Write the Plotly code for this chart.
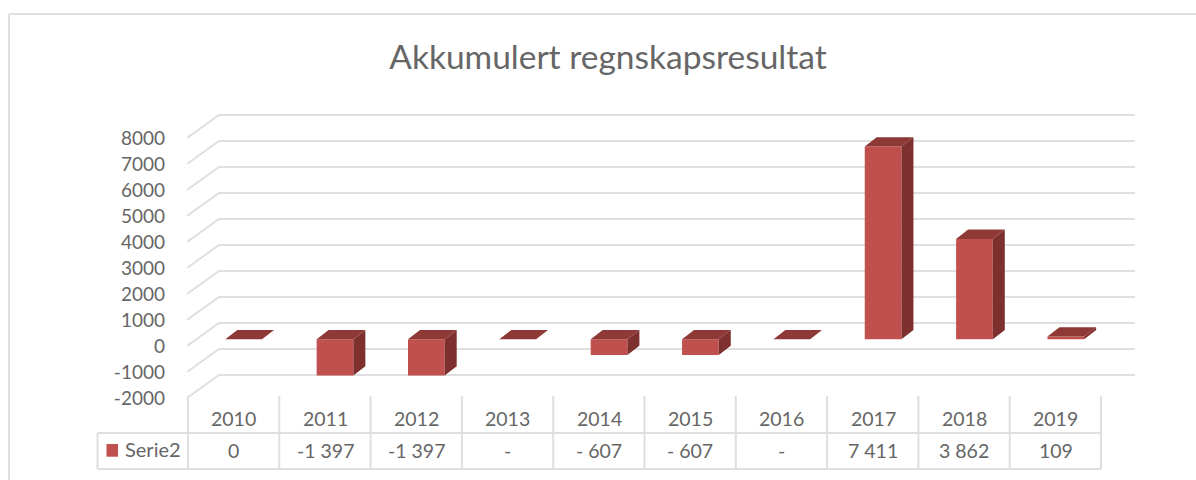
import plotly.graph_objects as go

# --- data ---
years = ["2010", "2011", "2012", "2013", "2014", "2015", "2016", "2017", "2018", "2019"]
values = [0, -1397, -1397, 0, -607, -607, 0, 7411, 3862, 109]
table_labels = ["0", "-1 397", "-1 397", "-", "- 607", "- 607", "-", "7 411", "3 862", "109"]
y_ticks = [8000, 7000, 6000, 5000, 4000, 3000, 2000, 1000, 0, -1000, -2000]
series_name = "Serie2"
title_text = "Akkumulert regnskapsresultat"

# --- layout constants ---
W, H = 1196, 480
L, R, T, B = 187, 1140, 100, 400       # plot area in pixels
PX_CAT = 91.35                         # pixels per category
PX_VAL = 0.026                         # pixels per value unit
X0_BAR = 243.65                        # pixel of first category
Y0_BAR = 339.3                         # pixel of zero in the bar plane
Y0_WALL = 346.0                        # pixel of zero on the front wall edge
BAR_W = 36.7 / PX_CAT
DX = 12 / PX_CAT                       # bar depth
DY = 9.3 / PX_VAL
TEXT = "#666666"
GRID = "#dfdfdf"
FONT = "Lato"

xr = [(L - X0_BAR) / PX_CAT, (R - X0_BAR) / PX_CAT]
yr_wall = [(Y0_WALL - B) / PX_VAL, (Y0_WALL - T) / PX_VAL]
yr_bar = [(Y0_BAR - B) / PX_VAL, (Y0_BAR - T) / PX_VAL]


def px(x):
    return (x - L) / (R - L)


def py(y):
    return (B - y) / (B - T)


fig = go.Figure()

# walls: gridlines running from the front-left edge to the back wall
wx, wy = [], []
x_front = (187 - X0_BAR) / PX_CAT
x_back_l = (219 - X0_BAR) / PX_CAT
x_back_r = (1135 - X0_BAR) / PX_CAT
back_shift = (Y0_WALL - 323) / PX_VAL
for v in y_ticks:
    wx += [x_front, x_back_l, x_back_r, None]
    wy += [v, v + back_shift, v + back_shift, None]
fig.add_trace(go.Scatter(x=wx, y=wy, mode="lines", line=dict(color=GRID, width=2),
                         hoverinfo="skip", yaxis="y", xaxis="x"))

# bars: front faces
fig.add_trace(go.Bar(x=list(range(len(values))), y=values, width=BAR_W,
                     marker=dict(color="#c0504d", line=dict(width=0)),
                     name=series_name, yaxis="y2", xaxis="x"))

# bars: side and top faces projected from the values
sx, sy, tx, ty = [], [], [], []
for i, v in enumerate(values):
    lo, hi = min(v, 0), max(v, 0)
    xl, xr_ = i - BAR_W / 2, i + BAR_W / 2
    if v != 0:
        sx += [xr_, xr_ + DX, xr_ + DX, xr_, xr_, None]
        sy += [lo, lo + DY, hi + DY, hi, lo, None]
    tx += [xl, xl + DX, xr_ + DX, xr_, xl, None]
    ty += [hi, hi + DY, hi + DY, hi, hi, None]
fig.add_trace(go.Scatter(x=sx, y=sy, mode="lines", fill="toself", fillcolor="#7d302e",
                         line=dict(width=0), hoverinfo="skip", yaxis="y2", xaxis="x"))
fig.add_trace(go.Scatter(x=tx, y=ty, mode="lines", fill="toself", fillcolor="#8f3936",
                         line=dict(width=0), hoverinfo="skip", yaxis="y2", xaxis="x"))

# data table and frame
shapes = []


def line(x0, y0, x1, y1, color=GRID, width=2):
    shapes.append(dict(type="line", xref="paper", yref="paper", x0=px(x0), y0=py(y0),
                       x1=px(x1), y1=py(y1), line=dict(color=color, width=width)))


line(9, 14, W, 14)
line(9, 14, 9, H)
line(97.5, 433, 1101, 433)
line(97.5, 469, 1101, 469)
line(97.5, 433, 97.5, 469)
for k in range(len(years) + 1):
    xp = 188 + k * (1101 - 188) / len(years)
    line(xp, 396, xp, 469)
shapes.append(dict(type="rect", xref="paper", yref="paper", x0=px(106.5), x1=px(118),
                   y0=py(456.7), y1=py(444), fillcolor="#c0504d", line=dict(width=0)))

annotations = []
cell_shift = (188 + (1101 - 188) / 20) - X0_BAR
for i, (yr, lab) in enumerate(zip(years, table_labels)):
    for text, yy in ((yr, 418.5), (lab, 450)):
        annotations.append(dict(x=i, xref="x", xshift=cell_shift, y=py(yy), yref="paper",
                                text=text, showarrow=False, xanchor="center", yanchor="middle",
                                font=dict(family=FONT, size=19.5, color=TEXT)))
annotations.append(dict(x=px(123), xref="paper", y=py(449), yref="paper", text=series_name,
                        showarrow=False, xanchor="left", yanchor="middle",
                        font=dict(family=FONT, size=20, color=TEXT)))

fig.update_layout(
    width=W, height=H,
    margin=dict(l=L, r=W - R, t=T, b=H - B, autoexpand=False),
    paper_bgcolor="white", plot_bgcolor="rgba(0,0,0,0)",
    showlegend=False,
    title=dict(text=title_text, x=608 / W, xanchor="center", y=1 - 57 / H, yanchor="middle",
               font=dict(family=FONT, size=33.5, color=TEXT)),
    xaxis=dict(range=xr, visible=False, fixedrange=True),
    yaxis=dict(range=yr_wall, tickvals=y_ticks, ticktext=[str(v) for v in y_ticks],
               showgrid=False, zeroline=False, showline=False, ticks="",
               ticklabelstandoff=21, fixedrange=True,
               tickfont=dict(family=FONT, size=19, color=TEXT)),
    yaxis2=dict(range=yr_bar, overlaying="y", visible=False, fixedrange=True),
    shapes=shapes, annotations=annotations,
)

fig.write_html("out.html", config={"displayModeBar": False},
               post_script="document.body.style.margin='0';")
